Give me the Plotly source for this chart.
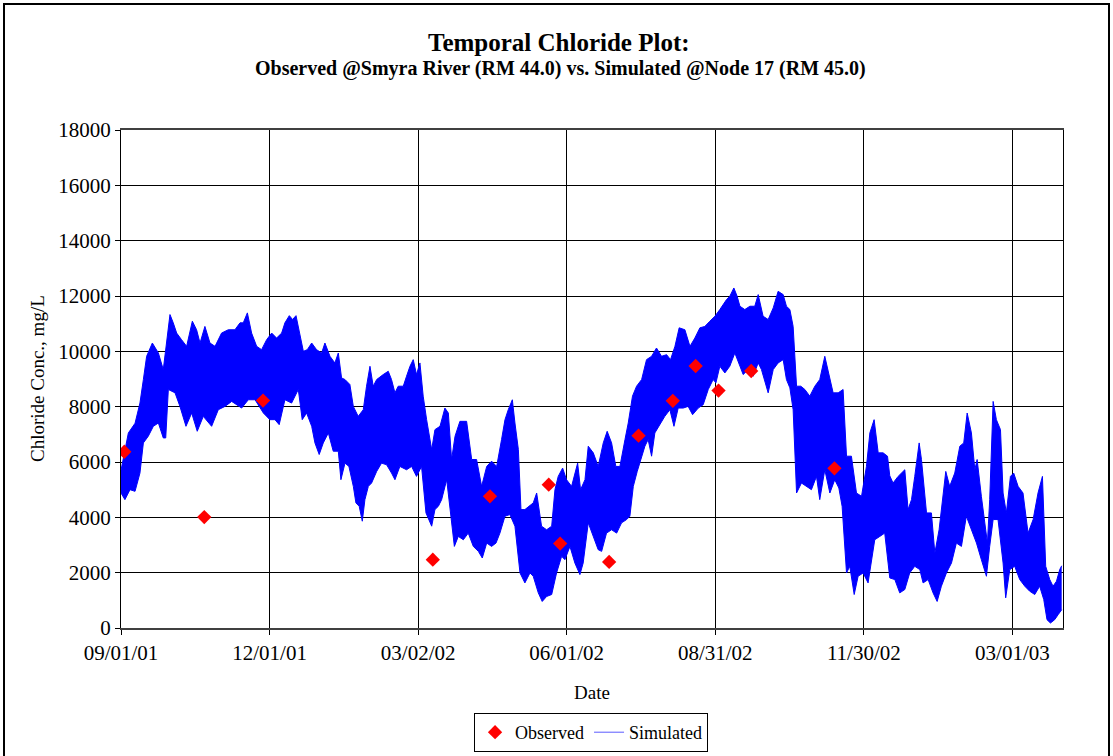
import pandas as pd
import plotly.graph_objects as go

START = pd.Timestamp("2001-09-01")
FONT = "Liberation Serif, Times New Roman, serif"

# observed grab samples
obs_dates = ["2001-09-03", "2001-10-22", "2001-11-27", "2002-03-11", "2002-04-15",
             "2002-05-21", "2002-05-28", "2002-06-27", "2002-07-15", "2002-08-05",
             "2002-08-19", "2002-09-02", "2002-09-22", "2002-11-12"]
obs_conc = [6370, 4010, 8220, 2470, 4760, 5180, 3050, 2390, 6950, 8210,
            9470, 8580, 9290, 5770]

# simulated (hourly model output) read off the picture as the upper / lower
# envelope of the tidal band, days after 09/01/01
sim_hi_day = [0, 2.4, 4.5, 8.6, 11.6, 13.7, 15.7, 19.2, 22.9, 25.9, 28.0, 30.0, 32.0, 34.1,
              37.1, 40.2, 43.7, 46.3, 48.4, 51.4, 54.5, 57.6, 61.6, 65.7, 69.8, 72.9, 74.9,
              77.4, 80.0, 83.1, 86.1, 89.2, 92.3, 95.3, 98.4, 100.4, 103.1, 105.1, 107.2,
              109.6, 111.7, 114.1, 116.8, 119.8, 122.9, 124.9, 128.0, 131.0, 133.1, 135.1,
              137.2, 140.2, 142.3, 145.3, 148.4, 150.4, 152.5, 154.5, 156.6, 160.6, 163.7,
              165.7, 167.8, 169.8, 172.9, 174.9, 177.0, 179.0, 181.0, 183.1, 185.1, 187.2,
              190.3, 192.3, 195.4, 198.4, 200.5, 202.5, 204.6, 207.6, 211.7, 214.8, 217.8,
              220.9, 224.0, 227.0, 230.1, 233.1, 235.2, 237.2, 239.7, 241.3, 243.4, 245.0,
              247.4, 249.9, 252.5, 254.6, 257.6, 260.7, 263.8, 265.8, 267.8, 270.5, 272.9,
              276.0, 279.7, 281.5, 284.2, 286.2, 289.3, 292.3, 295.4, 297.8, 300.5, 303.1,
              305.6, 308.7, 310.7, 313.3, 315.8, 318.9, 321.9, 325.0, 328.0, 331.1, 334.2,
              336.6, 339.3, 341.9, 345.4, 348.5, 351.5, 354.6, 357.6, 360.7, 363.8, 366.8,
              370.9, 372.9, 375.4, 377.4, 379.1, 382.1, 385.2, 388.2, 390.3, 393.3, 396.4,
              399.5, 402.5, 405.6, 407.6, 409.7, 411.7, 413.8, 416.4, 418.9, 421.9, 425.0,
              428.0, 431.1, 433.6, 436.2, 439.3, 442.3, 444.4, 447.4, 450.5, 453.6, 456.6,
              458.7, 461.3, 463.8, 466.8, 469.5, 470.9, 472.9, 476.0, 480.1, 482.1, 484.2,
              486.2, 488.9, 490.3, 493.4, 496.4, 498.5, 501.1, 503.6, 505.2, 507.6, 510.7,
              513.8, 516.2, 518.3, 520.9, 523.0, 524.4, 527.0, 529.1, 530.7, 532.1, 534.2,
              536.2, 538.7, 540.3, 542.3, 544.8, 546.8, 549.5, 552.5, 555.6, 558.7, 561.7,
              564.4, 566.4, 568.9, 570.9, 573.0, 575.0, 576.2]
sim_hi = [5700, 6500, 7050, 7400, 8130, 8980, 9820, 10300, 9940, 9340, 10420, 11330, 11030, 10660,
          10420, 10180, 11090, 10780, 10300, 10900, 10300, 10180, 10660, 10780, 10780, 11030, 11030,
          11390, 10660, 10180, 10060, 10420, 10660, 10480, 10660, 11030, 11290, 11150, 11290,
          10540, 10000, 10060, 10300, 10060, 9940, 10300, 9820, 9580, 9940, 9040,
          8980, 8800, 8010, 7650, 7890, 8740, 9460, 8740, 8980, 9160, 9280,
          8980, 8500, 8740, 8740, 9100, 9460, 9700, 9160, 9580, 8380, 7530,
          6450, 7170, 7290, 7950, 7770, 6090, 6930, 7470, 7470, 6090, 6090,
          5120, 5840, 6030, 5840, 6810, 7530, 7890, 8250, 7410, 6450, 4280,
          4280, 4400, 4520, 4880, 3680, 3550, 3680, 5000, 5480, 5780, 5360,
          5120, 5960, 5000, 5360, 6570, 6330, 5840, 6690, 7110, 6690, 5840,
          5840, 6810, 7410, 8380, 8740, 8980, 9700, 9820, 10120, 9820, 9880,
          9700, 10180, 10850, 10780, 10180, 10480, 10850, 10900, 11090, 11270, 11510,
          11870, 11990, 12290, 11990, 11630, 11510, 11630, 11630, 12050, 11270, 11150,
          11570, 12170, 12050, 11630, 11510, 10900, 8740, 8740, 8620, 8380, 8740,
          8980, 9820, 9220, 8500, 8500, 8620, 6210, 6210, 4880, 4760, 5840,
          7050, 7530, 6330, 6330, 6210, 5500, 5240, 5480, 5720, 4280, 4640,
          5480, 6690, 6090, 4160, 4160, 2710, 3550, 4880, 5660, 5120, 5600,
          6570, 6690, 7770, 7050, 5720, 6090, 4760, 3800, 3070, 4640, 8190,
          7530, 7170, 4880, 4160, 5480, 5600, 5120, 4880, 3430, 3920, 4880,
          5480, 2230, 1750, 1510, 1690, 2110, 2250]

sim_lo_day = [0, 2.4, 5.5, 8.6, 11.6, 13.7, 16.7, 19.8, 22.9, 25.9, 27.4, 29.0, 33.1, 36.1,
              39.8, 43.3, 46.7, 50.4, 55.5, 59.6, 63.7, 67.8, 73.9, 78.0, 82.1, 87.2, 91.2,
              94.3, 96.9, 100.4, 104.5, 108.6, 111.0, 113.7, 116.8, 118.8, 121.4, 123.9, 127.0,
              130.0, 133.1, 134.7, 137.2, 139.6, 142.3, 143.9, 145.9, 147.8, 149.4, 151.5,
              153.5, 156.6, 159.6, 162.7, 165.7, 167.8, 170.8, 174.9, 178.0, 181.0, 184.1,
              186.8, 190.3, 192.3, 194.4, 196.4, 199.5, 201.5, 204.2, 206.6, 209.7, 212.7,
              215.8, 218.9, 221.3, 224.0, 227.0, 229.7, 232.1, 235.2, 238.2, 241.3, 244.4,
              247.4, 250.5, 252.5, 255.6, 258.0, 260.7, 263.8, 266.8, 269.9, 271.9, 275.0,
              278.0, 281.1, 283.1, 286.2, 289.3, 292.3, 294.4, 297.4, 300.5, 303.6, 306.6,
              309.7, 311.7, 313.8, 316.2, 318.2, 320.9, 322.9, 325.0, 327.0, 330.1, 333.1,
              336.2, 338.7, 341.3, 344.4, 347.4, 350.1, 353.6, 356.6, 359.7, 362.7, 364.4,
              366.8, 369.9, 372.9, 376.0, 379.1, 381.1, 384.2, 387.2, 390.3, 392.3, 396.4,
              399.5, 402.5, 405.6, 407.6, 409.7, 411.7, 413.8, 416.8, 419.9, 422.9, 426.0,
              428.0, 431.1, 434.2, 437.2, 439.7, 441.7, 444.4, 446.4, 449.1, 451.5, 454.6,
              457.6, 459.7, 461.7, 464.8, 467.8, 470.9, 474.0, 477.0, 480.1, 483.1, 486.2,
              489.3, 491.3, 494.4, 497.4, 499.9, 502.5, 505.6, 508.7, 511.7, 514.8, 517.8,
              520.9, 524.0, 527.0, 530.1, 532.1, 534.2, 537.2, 540.3, 541.9, 544.4, 547.4,
              550.5, 553.6, 556.6, 559.7, 562.7, 565.2, 567.2, 569.3, 571.9, 574.0, 576.2]
sim_lo = [4880, 4640, 5000, 4940, 5600, 6690, 6930, 7290, 7410, 6870, 6870, 8620, 8500, 8010,
          7290, 7770, 7110, 7650, 7290, 7890, 8010, 8190, 7950, 8250, 8250, 7770, 7530,
          7530, 7350, 8250, 8130, 8620, 7530, 7770, 7290, 6690, 6270, 6690, 7050,
          6390, 6390, 5360, 5960, 5840, 5120, 4520, 4400, 3860, 4640, 5120,
          5240, 5660, 5960, 5900, 5600, 5360, 5840, 5720, 5840, 5480, 5840,
          4160, 3680, 4280, 4400, 4640, 5360, 4400, 2950, 3310, 3190, 3430,
          2950, 2770, 2530, 3070, 2950, 3070, 3430, 4040, 4100, 3680, 1990,
          1630, 1990, 1870, 1270, 960, 1140, 1210, 1990, 2590, 2470, 2950,
          2350, 1930, 2350, 3800, 3310, 2830, 2770, 3430, 3550, 3430, 3800,
          3920, 4040, 5120, 5660, 6090, 6570, 6810, 6210, 7050, 7350, 7650,
          7890, 7290, 7950, 7950, 8010, 7710, 7950, 8070, 8620, 8980, 8860,
          9460, 9220, 9460, 9940, 9460, 9160, 9340, 9100, 9580, 9340, 8500,
          9340, 9580, 9700, 8980, 8680, 7890, 4880, 5240, 5120, 5000, 5480,
          4640, 5720, 4880, 5360, 5060, 4400, 1990, 2230, 1210, 1870, 1990,
          1630, 2470, 3190, 3310, 3430, 1810, 1750, 1270, 1390, 1990, 2230,
          2110, 1630, 1750, 1270, 960, 1510, 1990, 2350, 3070, 2950, 4040,
          3550, 3070, 2470, 1870, 2950, 3920, 3920, 2350, 1090, 2110, 2230,
          1750, 1510, 1330, 1210, 1510, 1030, 300, 180, 300, 480, 660]

tick_dates = ["2001-09-01", "2001-12-01", "2002-03-02", "2002-06-01",
              "2002-08-31", "2002-11-30", "2003-03-01"]

hi_x = START + pd.to_timedelta(sim_hi_day, unit="D")
lo_x = START + pd.to_timedelta(sim_lo_day, unit="D")
tick_x = pd.to_datetime(tick_dates)

BLUE = "#0000FF"
fig = go.Figure()

# tidal band of the simulated series: lower edge, then upper edge filled down to it
fig.add_trace(go.Scatter(x=lo_x, y=sim_lo, mode="lines", line=dict(color=BLUE, width=1),
                         showlegend=False, hoverinfo="skip"))
fig.add_trace(go.Scatter(x=hi_x, y=sim_hi, mode="lines", line=dict(color=BLUE, width=1),
                         fill="tonexty", fillcolor=BLUE, showlegend=False, hoverinfo="skip"))
fig.add_trace(go.Scatter(x=pd.to_datetime(obs_dates), y=obs_conc, mode="markers", name="Observed",
                         marker=dict(symbol="diamond", size=11, color="#FF0000", line=dict(width=0))))
# legend entry for the simulated line
fig.add_trace(go.Scatter(x=[None], y=[None], mode="lines", name="Simulated",
                         line=dict(color="#5a5aff", width=1)))

L, R, T, B = 121, 50, 130, 128
W, H = 1113, 756
pw, ph = W - L - R, H - T - B


def px(xp):
    return (xp - L) / pw


def py(yp):
    return (H - B - yp) / ph


fig.update_layout(
    width=W, height=H,
    margin=dict(l=L, r=R, t=T, b=B, autoexpand=False),
    paper_bgcolor="white", plot_bgcolor="white",
    font=dict(family=FONT, size=19, color="black"),
    showlegend=True,
    # anchor the legend box by its bottom edge so it always stays inside the page
    legend=dict(orientation="h", traceorder="normal", x=0.499, y=py(752),
                xanchor="center", yanchor="bottom",
                bordercolor="black", borderwidth=1, bgcolor="white",
                font=dict(family=FONT, size=18)),
    annotations=[
        dict(text="<b>Temporal Chloride Plot:</b>", x=px(559), y=py(42), xref="paper", yref="paper",
             showarrow=False, font=dict(size=25, family=FONT), xanchor="center", yanchor="middle"),
        dict(text="<b>Observed @Smyra River (RM 44.0) vs. Simulated @Node 17 (RM 45.0)</b>",
             x=px(560), y=py(68), xref="paper", yref="paper", showarrow=False,
             font=dict(size=20, family=FONT), xanchor="center", yanchor="middle"),
        dict(text="Chloride Conc., mg/L", x=px(37), y=py(379), xref="paper", yref="paper",
             showarrow=False, textangle=-90, font=dict(size=19, family=FONT),
             xanchor="center", yanchor="middle"),
        dict(text="Date", x=px(592), y=py(692), xref="paper", yref="paper", showarrow=False,
             font=dict(size=19, family=FONT), xanchor="center", yanchor="middle"),
    ],
    shapes=[
        dict(type="rect", xref="paper", yref="paper", x0=px(4), x1=px(1109), y0=py(762), y1=py(4),
             line=dict(color="black", width=2), fillcolor="rgba(0,0,0,0)", layer="below"),
    ],
)

fig.update_xaxes(
    type="date", range=[START, START + pd.Timedelta(days=577)],
    tickvals=tick_x, ticktext=[d.strftime("%m/%d/%y") for d in tick_x],
    showgrid=True, gridcolor="black", gridwidth=1,
    showline=True, linecolor="#404040", linewidth=2, mirror=True,
    ticks="outside", ticklen=5, tickcolor="black", tickfont=dict(size=21, family=FONT),
    zeroline=False,
)
fig.update_yaxes(
    range=[0, 18000], dtick=2000, tick0=0, tickformat="d",
    showgrid=True, gridcolor="black", gridwidth=1,
    showline=True, linecolor="black", linewidth=1, mirror=True,
    ticks="outside", ticklen=5, tickcolor="black", tickfont=dict(size=21, family=FONT),
    zeroline=False,
)

# page body has a default 8px margin; drop it so the figure sits at the window origin
fig.write_html("out.html", config={"displayModeBar": False},
               post_script="document.body.style.margin='0px';")
